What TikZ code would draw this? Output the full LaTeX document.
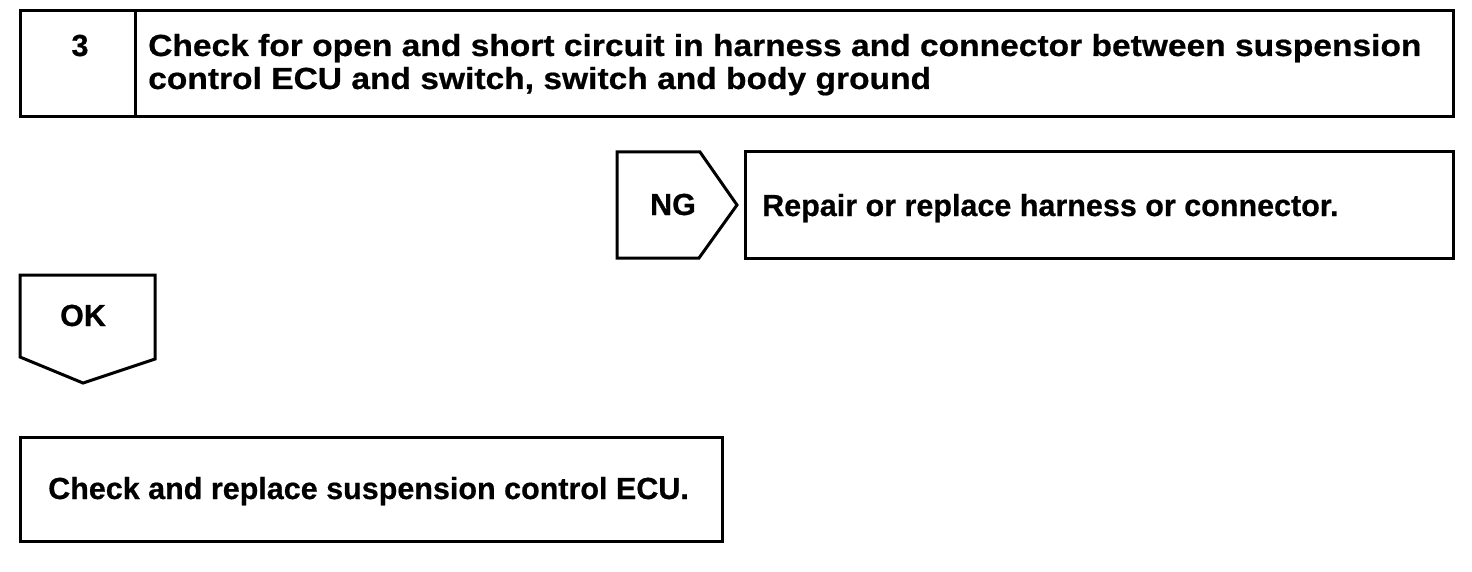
\documentclass[tikz,border=0pt]{standalone}
\usepackage{fontspec}
\setmainfont{Liberation Sans}[FakeBold=0.6]
\newfontfamily\wideface{Liberation Sans}[FakeStretch=1.10,FakeBold=0.6]
\begin{document}
\begin{tikzpicture}[x=1pt,y=-1pt,
  frame/.style={draw=black,line width=3pt,line join=miter},
  lbl/.style={inner sep=0pt,anchor=base,font=\fontsize{30.5}{33}\selectfont\bfseries},
  lbll/.style={inner sep=0pt,align=left,anchor=base west,font=\fontsize{30.5}{33}\selectfont\wideface\bfseries}]
\useasboundingbox (0,0) rectangle (1472,572);
% top box
\draw[frame] (20,11) rectangle (1453,117);
\draw[frame] (135,11) -- (135,117);
\node[lbl] (num) at (80,56) {3};
\node[lbll] (title) at (148,89) {Check for open and short circuit in harness and connector between suspension\\control ECU and switch, switch and body ground};
% NG pentagon
\draw[frame] (617,152) -- (700,152) -- (737,205) -- (699,258) -- (617,258) -- cycle;
\node[lbl] (ng) at (673,215) {NG};
% repair box
\draw[frame] (745,152) rectangle (1453,258);
\node[lbl,anchor=base west] (repair) at (762,216) {Repair or replace harness or connector.};
% OK pentagon
\draw[frame] (20,275) -- (155,275) -- (155,359) -- (83,383) -- (20,357) -- cycle;
\node[lbl] (ok) at (83,326) {OK};
% bottom box
\draw[frame] (20,437) rectangle (722,541);
\node[lbl,anchor=base west] (ecu) at (48,499) {Check and replace suspension control ECU.};
\end{tikzpicture}
\end{document}
